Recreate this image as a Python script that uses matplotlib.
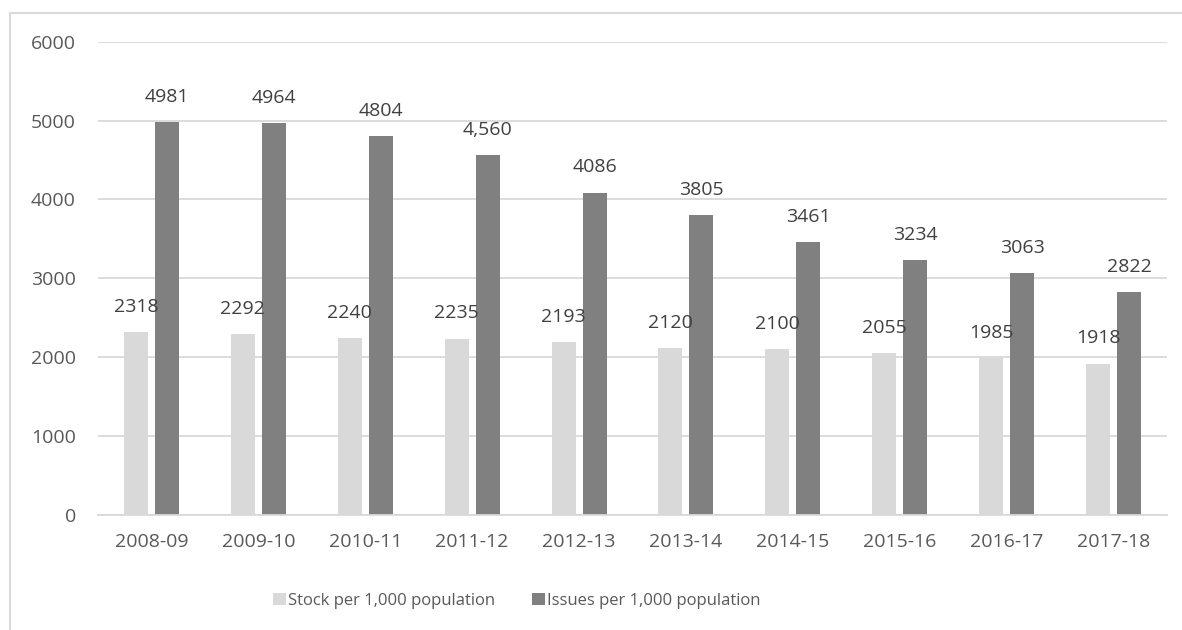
import numpy as np
import matplotlib.pyplot as plt
from matplotlib.lines import Line2D

# data
years = ['2008-09', '2009-10', '2010-11', '2011-12', '2012-13',
         '2013-14', '2014-15', '2015-16', '2016-17', '2017-18']
stock = [2318, 2292, 2240, 2235, 2193, 2120, 2100, 2055, 1985, 1918]
issues = [4981, 4964, 4804, 4560, 4086, 3805, 3461, 3234, 3063, 2822]
issue_labels = ['4981', '4964', '4804', '4,560', '4086',
                '3805', '3461', '3234', '3063', '2822']

plt.rcParams['font.family'] = ['Open Sans', 'DejaVu Sans']

fig = plt.figure(figsize=(11.82, 6.3), dpi=100)
ax = fig.add_axes([98 / 1182, 1 - 515 / 630, 1069 / 1182, 473.3 / 630])

x = np.arange(len(years))
w = 0.225
gap = 0.065
light = '#d9d9d9'
dark = '#808080'

ax.bar(x - (w + gap) / 2, stock, w, color=light, label='Stock per 1,000 population', zorder=2)
ax.bar(x + (w + gap) / 2, issues, w, color=dark, label='Issues per 1,000 population', zorder=2)

for i in range(len(years)):
    ax.text(x[i] - (w + gap) / 2, stock[i] + 320, str(stock[i]), ha='center', va='center',
            fontsize=14, color='#404040', zorder=3)
    ax.text(x[i] + (w + gap) / 2, issues[i] + 320, issue_labels[i], ha='center', va='center',
            fontsize=14, color='#404040', zorder=3)

ax.set_xlim(-0.5, len(years) - 0.5)
ax.set_ylim(0, 6000)
ax.set_yticks(range(0, 6001, 1000))
ax.set_xticks(x)
ax.set_xticklabels(years)
ax.yaxis.grid(True, color='#d9d9d9', linewidth=1.3, zorder=0)
ax.set_axisbelow(True)
for s in ['top', 'right', 'left']:
    ax.spines[s].set_visible(False)
ax.spines['bottom'].set_color('#d9d9d9')
ax.spines['bottom'].set_linewidth(1.3)
ax.tick_params(axis='both', length=0, labelsize=14, labelcolor='#595959')
ax.tick_params(axis='y', pad=16)
ax.tick_params(axis='x', pad=13)

fig.legend(loc='center', bbox_to_anchor=(517 / 1182, 1 - 601 / 630), ncol=2, frameon=False,
           fontsize=12, labelcolor='#595959', handlelength=0.75, handleheight=0.75,
           handletextpad=0.15, columnspacing=2.2)

# chart border (left and top)
fig.add_artist(Line2D([10 / 1182, 10 / 1182, 1.0], [0, 1 - 12.5 / 630, 1 - 12.5 / 630],
                      transform=fig.transFigure, color='#d9d9d9', linewidth=1.5))

fig.savefig('out.png', dpi=100)
